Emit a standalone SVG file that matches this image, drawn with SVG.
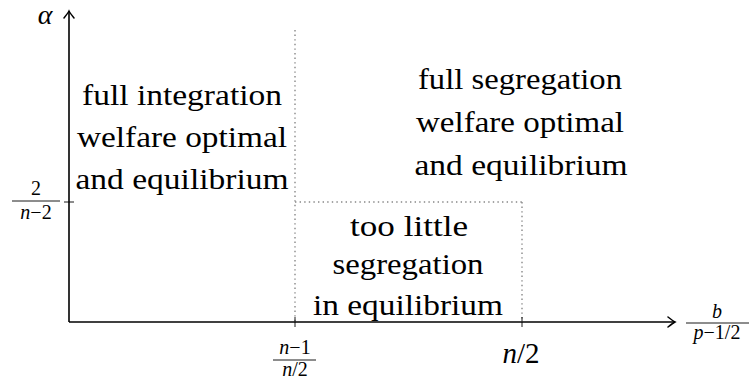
<svg xmlns="http://www.w3.org/2000/svg" width="753" height="380" viewBox="0 0 753 380">
<defs>
<marker id="arr" viewBox="-8 -6 10 12" refX="0" refY="0" markerWidth="10" markerHeight="12" markerUnits="userSpaceOnUse" orient="auto">
<path d="M-7,-5 Q-2,-1 0,0 Q-2,1 -7,5" fill="none" stroke="#000" stroke-width="1.5" stroke-linecap="round"/>
</marker>
</defs>
<rect width="753" height="380" fill="#fff"/>
<g id="connectors" fill="none">
<g stroke="#000" stroke-width="1.6">
<line x1="69" y1="322" x2="69" y2="11" marker-end="url(#arr)"/>
<line x1="69" y1="322" x2="675" y2="322" marker-end="url(#arr)"/>
</g>
<g stroke="#888" stroke-width="1.4" stroke-dasharray="1.4 3.2">
<line x1="295" y1="30" x2="295" y2="322"/>
<line x1="295" y1="202" x2="522" y2="202"/>
<line x1="522" y1="202" x2="522" y2="322"/>
</g>
<g stroke="#000" stroke-width="0.9">
<line x1="64" y1="202" x2="74" y2="202"/>
<line x1="295" y1="317" x2="295" y2="327"/>
<line x1="522" y1="317" x2="522" y2="327"/>
</g>
</g>
<g font-family="Liberation Serif" fill="#000" text-anchor="middle">
<g id="alpha-label">
<text x="45" y="24" font-size="28" font-family="Liberation Serif" font-style="italic">α</text>
</g>
<g id="y-tick-label" font-size="20">
<text x="36" y="195" font-family="Liberation Serif">2</text>
<line x1="12" y1="201" x2="60" y2="201" stroke="#000" stroke-width="0.9"/>
<text x="36" y="219" font-family="Liberation Serif"><tspan font-style="italic">n</tspan>−2</text>
</g>
<g id="x-tick-label-1" font-size="20">
<text x="295" y="354" font-family="Liberation Serif"><tspan font-style="italic">n</tspan>−1</text>
<line x1="273" y1="360" x2="316" y2="360" stroke="#000" stroke-width="0.9"/>
<text x="295" y="376" font-family="Liberation Serif"><tspan font-style="italic">n</tspan>/2</text>
</g>
<g id="x-tick-label-2">
<text x="521" y="363" font-size="29" font-family="Liberation Serif"><tspan font-style="italic">n</tspan>/2</text>
</g>
<g id="x-axis-label" font-size="20">
<text x="717" y="318" font-family="Liberation Serif" font-style="italic">b</text>
<line x1="686" y1="323" x2="749" y2="323" stroke="#000" stroke-width="0.9"/>
<text x="717" y="339" font-family="Liberation Serif"><tspan font-style="italic">p</tspan>−1/2</text>
</g>
<g id="full-integration" font-size="29">
<text x="182" y="105" font-family="Liberation Serif" textLength="200" lengthAdjust="spacingAndGlyphs">full integration</text>
<text x="182" y="147" font-family="Liberation Serif" textLength="210" lengthAdjust="spacingAndGlyphs">welfare optimal</text>
<text x="182" y="189" font-family="Liberation Serif" textLength="213" lengthAdjust="spacingAndGlyphs">and equilibrium</text>
</g>
<g id="full-segregation" font-size="29">
<text x="520" y="89" font-family="Liberation Serif" textLength="204" lengthAdjust="spacingAndGlyphs">full segregation</text>
<text x="520" y="132" font-family="Liberation Serif" textLength="208" lengthAdjust="spacingAndGlyphs">welfare optimal</text>
<text x="521" y="175" font-family="Liberation Serif" textLength="213" lengthAdjust="spacingAndGlyphs">and equilibrium</text>
</g>
<g id="too-little-segregation" font-size="29">
<text x="409" y="236" font-family="Liberation Serif" textLength="118" lengthAdjust="spacingAndGlyphs">too little</text>
<text x="408" y="274" font-family="Liberation Serif" textLength="151" lengthAdjust="spacingAndGlyphs">segregation</text>
<text x="408" y="315" font-family="Liberation Serif" textLength="190" lengthAdjust="spacingAndGlyphs">in equilibrium</text>
</g>
</g>
</svg>
